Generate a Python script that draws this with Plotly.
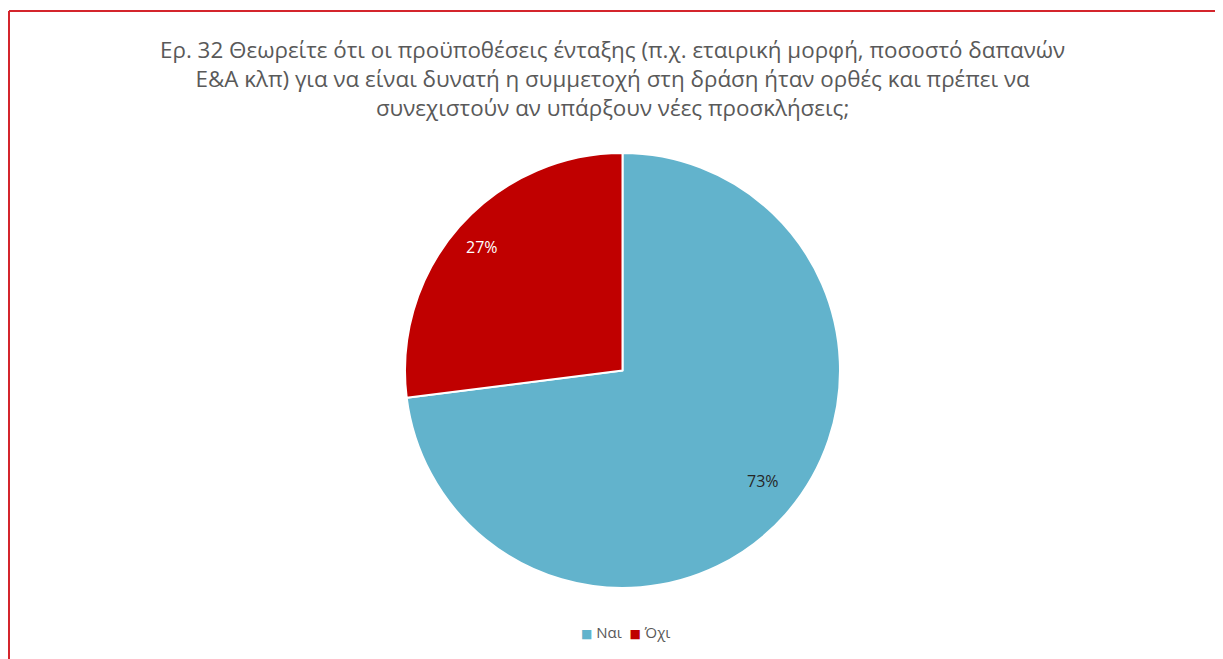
import math
import plotly.graph_objects as go

W, H = 1223, 659
OFF = 8  # page body margin offset

labels = ["Ναι", "Όχι"]
values = [73, 27]
colors = ["#62B3CC", "#C00000"]
label_colors = ["#262626", "#FFFFFF"]
title_text = ("Ερ. 32 Θεωρείτε ότι οι προϋποθέσεις ένταξης (π.χ. εταιρική μορφή, ποσοστό δαπανών<br>"
              "Ε&Α κλπ) για να είναι δυνατή η συμμετοχή στη δράση ήταν ορθές και πρέπει να<br>"
              "συνεχιστούν αν υπάρξουν νέες προσκλήσεις;")

FONT = "Open Sans"


def px_x(x):
    return (x - OFF) / W


def px_y(y):
    return 1 - (y - OFF) / H


# pie geometry in page pixels
cx, cy, r = 622.5, 370.5, 217.5

fig = go.Figure(go.Pie(
    labels=labels, values=values, sort=False, direction="clockwise", rotation=0,
    marker=dict(colors=colors, line=dict(color="white", width=2)),
    textinfo="none", hoverinfo="label+percent",
    domain=dict(x=[px_x(cx - r), px_x(cx + r)], y=[px_y(cy + r), px_y(cy - r)]),
))

annotations = []
total = sum(values)
cum = 0
for lab, v, col in zip(labels, values, label_colors):
    mid = (cum + v / 2) / total * 2 * math.pi
    cum += v
    lx = cx + 0.86 * r * math.sin(mid)
    ly = cy - 0.86 * r * math.cos(mid)
    annotations.append(dict(x=px_x(lx), y=px_y(ly), xref="paper", yref="paper",
                            text=f"{round(v / total * 100)}%", showarrow=False,
                            font=dict(family=FONT, size=16, color=col)))

annotations.append(dict(x=px_x(612), y=px_y(78), xref="paper", yref="paper",
                        text=title_text, showarrow=False, align="center",
                        xanchor="center", yanchor="middle",
                        font=dict(family=FONT, size=22.4, color="#595959")))

legend_parts = [f"<span style='color:{c};font-size:12px;font-family:DejaVu Sans'>■</span> {l}"
                for l, c in zip(labels, colors)]
annotations.append(dict(x=px_x(626), y=px_y(632), xref="paper", yref="paper",
                        text="  ".join(legend_parts), showarrow=False,
                        xanchor="center", yanchor="middle",
                        font=dict(family=FONT, size=15, color="#595959")))

BORDER = "#D4252C"
shapes = [
    dict(type="line", xref="paper", yref="paper", x0=px_x(9), x1=1, y0=px_y(11), y1=px_y(11),
         line=dict(color=BORDER, width=2)),
    dict(type="line", xref="paper", yref="paper", x0=px_x(9), x1=px_x(9), y0=0, y1=px_y(11),
         line=dict(color=BORDER, width=2)),
]

fig.update_layout(
    width=W, height=H,
    margin=dict(l=0, r=0, t=0, b=0),
    paper_bgcolor="white", plot_bgcolor="white",
    annotations=annotations, shapes=shapes,
    showlegend=False,
)

fig.write_html("out.html")
